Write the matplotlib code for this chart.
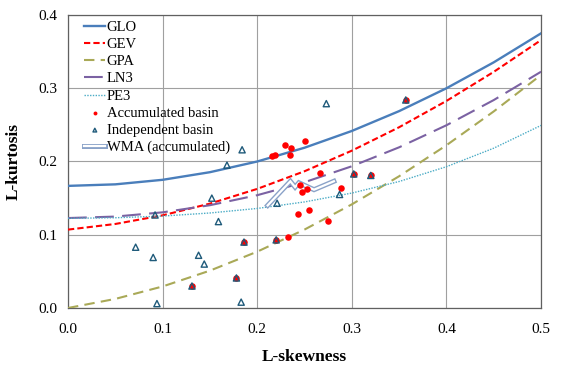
import matplotlib
matplotlib.use("Agg")
import matplotlib.pyplot as plt

# theoretical L-moment ratio curves, read at L-skewness steps of 0.05
skew = [0.0, 0.05, 0.1, 0.15, 0.2, 0.25, 0.3, 0.35, 0.4, 0.45, 0.5]
glo = [0.1667, 0.1688, 0.1750, 0.1854, 0.2000, 0.2188, 0.2417, 0.2688, 0.3000, 0.3354, 0.3750]
gev = [0.1070, 0.1147, 0.1265, 0.1425, 0.1626, 0.1867, 0.2148, 0.2468, 0.2827, 0.3224, 0.3658]
gpa = [0.0000, 0.0124, 0.0294, 0.0510, 0.0769, 0.1071, 0.1415, 0.1799, 0.2222, 0.2684, 0.3182]
ln3 = [0.1228, 0.1248, 0.1306, 0.1403, 0.1540, 0.1717, 0.1935, 0.2194, 0.2495, 0.2839, 0.3226]
pe3 = [0.1224, 0.1232, 0.1255, 0.1297, 0.1359, 0.1448, 0.1569, 0.1727, 0.1929, 0.2182, 0.2493]

# sample L-moment ratios
acc_x = [0.186, 0.220, 0.131, 0.178, 0.302, 0.320, 0.357,
         0.232, 0.243, 0.255, 0.245, 0.247, 0.253, 0.266, 0.216, 0.219,
         0.229, 0.236, 0.235, 0.250, 0.289, 0.275]
acc_y = [0.090, 0.093, 0.030, 0.041, 0.183, 0.181, 0.284,
         0.097, 0.128, 0.134, 0.168, 0.159, 0.163, 0.184, 0.207, 0.209,
         0.222, 0.219, 0.209, 0.228, 0.164, 0.119]
ind_x = [0.186, 0.220, 0.131, 0.178, 0.302, 0.320, 0.357,
         0.273, 0.184, 0.168, 0.152, 0.221, 0.287, 0.092, 0.159,
         0.0715, 0.090, 0.138, 0.144, 0.094, 0.183]
ind_y = [0.090, 0.093, 0.030, 0.041, 0.183, 0.181, 0.284,
         0.279, 0.216, 0.195, 0.150, 0.143, 0.155, 0.127, 0.118,
         0.083, 0.069, 0.072, 0.060, 0.006, 0.008]

# weighted moving average path (accumulated)
wma_x = [0.211, 0.235, 0.240, 0.244, 0.260, 0.281]
wma_y = [0.140, 0.173, 0.165, 0.171, 0.1615, 0.173]

plt.rcParams['font.family'] = ['Liberation Serif', 'DejaVu Serif']

fig = plt.figure(figsize=(5.73, 3.75), dpi=100)
ax = fig.add_axes([0.1187, 0.1787, 0.8256, 0.7813])

ax.plot(skew, glo, color='#4a7ebb', lw=1.7, label='GLO', zorder=3)
ax.plot(skew, gev, color='#ff0000', lw=1.5, dashes=(3, 1.5), label='GEV', zorder=3)
ax.plot(skew, gpa, color='#a9a957', lw=1.5, dashes=(5, 3), label='GPA', zorder=3)
ax.plot(skew, ln3, color='#7b62a3', lw=1.5, dashes=(9, 4), label='LN3', zorder=3)
ax.plot(skew, pe3, color='#4bacc6', lw=1.0, dashes=(1, 1), label='PE3', zorder=3)
ax.scatter(acc_x, acc_y, s=22, color='#ff0000', linewidths=0, label='Accumulated basin', zorder=4)
ax.scatter(ind_x, ind_y, s=20, marker='^', facecolors='none', edgecolors='#1f5a7a',
           linewidths=1.0, label='Independent basin', zorder=5)
ax.plot(wma_x, wma_y, color='#8aa2c8', lw=3.6, solid_joinstyle='miter', zorder=3)
ax.plot(wma_x, wma_y, color='white', lw=1.6, solid_joinstyle='miter', zorder=3)
# legend proxy for the double line
h1, = ax.plot([], [], color='#8aa2c8', lw=3.6)
h2, = ax.plot([], [], color='white', lw=1.6)

handles, labels = ax.get_legend_handles_labels()
handles.append((h1, h2))
labels.append('WMA (accumulated)')
ax.legend(handles, labels, loc='upper left', bbox_to_anchor=(0.022, 1.0),
          frameon=False, fontsize=10.5, handlelength=1.45, handletextpad=0.1,
          labelspacing=0.27, borderaxespad=0.0, markerscale=0.6)

ax.set_xlim(0, 0.5)
ax.set_ylim(0, 0.4)
ax.set_xticks([0.0, 0.1, 0.2, 0.3, 0.4, 0.5])
ax.set_yticks([0.0, 0.1, 0.2, 0.3, 0.4])
ax.set_xticklabels(['0.0', '0.1', '0.2', '0.3', '0.4', '0.5'])
ax.set_yticklabels(['0.0', '0.1', '0.2', '0.3', '0.4'])
ax.tick_params(axis='x', length=0, labelsize=11, pad=11)
ax.tick_params(axis='y', length=0, labelsize=11, pad=8)
ax.grid(True, color='#a0a0a0', lw=0.8)
ax.set_axisbelow(True)
for s in ax.spines.values():
    s.set_color('#606060')
    s.set_linewidth(0.9)

ax.set_xlabel('L-skewness', fontsize=12.5, fontweight='bold', labelpad=9)
ax.set_ylabel('L-kurtosis', fontsize=12.5, fontweight='bold', labelpad=12)

fig.savefig('out.png', dpi=100)
